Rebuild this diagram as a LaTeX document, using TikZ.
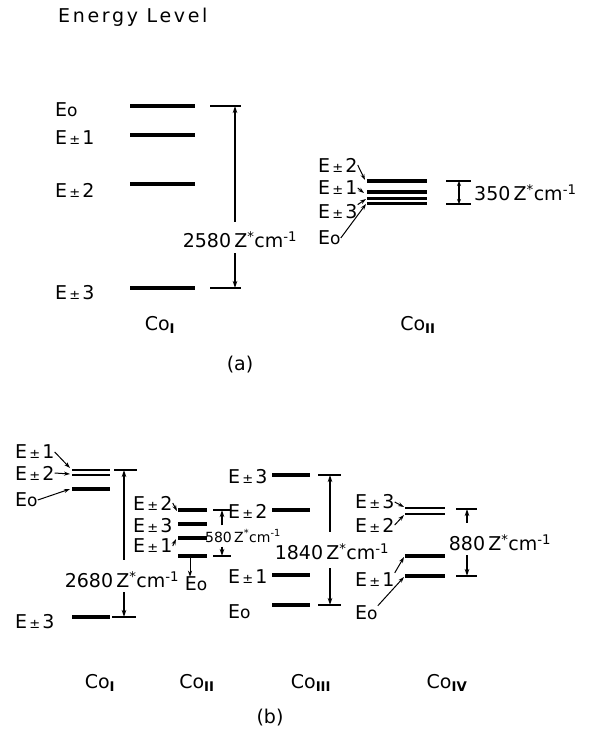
\documentclass[tikz,border=0pt]{standalone}
\usepackage{fontspec}
\setmainfont{DejaVu Sans}
\usetikzlibrary{arrows.meta}

\newcommand{\Epm}[1]{E{\fontsize{13}{13}\selectfont\,±\,}#1}
\newcommand{\Eo}{E{\fontsize{17}{17}\selectfont o}}
\newcommand{\wavenum}[1]{#1\,Z\textsuperscript{*}cm\textsuperscript{-1}}
\newcommand{\Co}[1]{Co\textsubscript{\textbf{#1}}}

\begin{document}
\begin{tikzpicture}[x=1pt, y=-1pt,
  lvl/.style={line width=3.5pt},
  lvlpair/.style={line width=2.5pt},
  lab/.style={font=\fontsize{19}{19}\selectfont, inner sep=0pt, anchor=west},
  gap/.style={font=\fontsize{19}{19}\selectfont, inner sep=2pt},
  gapsmall/.style={font=\fontsize{14}{14}\selectfont, inner sep=1pt},
  ptr/.style={-{Stealth[length=6pt,width=4pt]}, line width=1pt},
  dim/.style={-{Stealth[length=7pt,width=4.5pt]}, line width=1.3pt},
  tick/.style={line width=1.4pt}
]
  \useasboundingbox (0,0) rectangle (594,732);

  \node[lab, font=\fontsize{19}{19}\selectfont\addfontfeature{LetterSpace=14}] (title) at (58,17) {Energy Level};

  % (a) Co_I
  \foreach \y in {106,135,184,288} \draw[lvl] (130,\y) -- (195,\y);
  \node[lab] (aIE0) at (55,110) {\Eo};
  \node[lab] (aIE1) at (55,138) {\Epm{1}};
  \node[lab] (aIE2) at (55,190) {\Epm{2}};
  \node[lab] (aIE3) at (55,293) {\Epm{3}};
  \coordinate (aItop) at (235,106);
  \coordinate (aIbot) at (235,288);
  \draw[tick] (210,106) -- (241,106);
  \draw[tick] (210,288) -- (241,288);
  \node[gap] (aIgap) at (240,240) {\wavenum{2580}};
  \draw[dim] ([yshift=8pt]aIgap.north -| aItop) -- (aItop);
  \draw[dim] ([yshift=-3pt]aIgap.south -| aIbot) -- (aIbot);

  % (a) Co_II
  \draw[lvl] (367,181) -- (427,181);
  \draw[lvl] (367,192) -- (427,192);
  \draw[lvlpair] (367,198.5) -- (427,198.5);
  \draw[lvlpair] (367,203.5) -- (427,203.5);
  \coordinate (aII2) at (365,180);
  \coordinate (aII1) at (364,193);
  \coordinate (aII3) at (366,199);
  \coordinate (aII0) at (366,204);
  \node[lab] (aIIE2) at (318,165) {\Epm{2}};
  \node[lab] (aIIE1) at (318,188) {\Epm{1}};
  \node[lab] (aIIE3) at (318,212) {\Epm{3}};
  \node[lab] (aIIE0) at (318,238) {\Eo};
  \draw[ptr] (aIIE2.east) -- (aII2);
  \draw[ptr] (aIIE1.east) -- (aII1);
  \draw[ptr] (aIIE3.north east) -- (aII3);
  \draw[ptr] (aIIE0.east) -- (aII0);
  \coordinate (aIItop) at (459,181);
  \coordinate (aIIbot) at (459,204);
  \draw[tick] (446,181) -- (471,181);
  \draw[tick] (446,204) -- (471,204);
  \draw[{Stealth[length=5pt,width=4pt]}-{Stealth[length=5pt,width=4pt]}, line width=1.3pt] (aIItop) -- (aIIbot);
  \node[lab] (aIIgap) at (474,193) {\wavenum{350}};

  \node[lab, anchor=center] (aCoI) at (160,325) {\Co{I}};
  \node[lab, anchor=center] (aCoII) at (418,325) {\Co{II}};
  \node[lab, anchor=center] (alabel) at (240,365) {(a)};

  % (b) Co_I
  \draw[lvlpair] (72,470) -- (110,470);
  \draw[lvlpair] (72,475) -- (110,475);
  \draw[lvl] (72,489) -- (110,489);
  \draw[lvl] (72,617) -- (110,617);
  \coordinate (bI1) at (70,468);
  \coordinate (bI2) at (70,474);
  \coordinate (bI0) at (70,489);
  \node[lab] (bIE1) at (15,452) {\Epm{1}};
  \node[lab] (bIE2) at (15,473) {\Epm{2}};
  \node[lab] (bIE0) at (15,500) {\Eo};
  \node[lab] (bIE3) at (15,622) {\Epm{3}};
  \draw[ptr] (bIE1.east) -- (bI1);
  \draw[ptr] (bIE2.east) -- (bI2);
  \draw[ptr] (bIE0.east) -- (bI0);
  \coordinate (bItop) at (124,470);
  \coordinate (bIbot) at (124,617);
  \draw[tick] (114,470) -- (137,470);
  \draw[tick] (112,617) -- (136,617);
  \node[gap] (bIgap) at (122,580) {\wavenum{2680}};
  \draw[dim] ([yshift=10pt]bIgap.north -| bItop) -- (bItop);
  \draw[dim] ([yshift=-2pt]bIgap.south -| bIbot) -- (bIbot);

  % (b) Co_II
  \foreach \y in {510,524,538,556} \draw[lvl] (178,\y) -- (207,\y);
  \coordinate (bII2) at (177,511);
  \coordinate (bII1) at (176,539);
  \coordinate (bII0) at (190,558);
  \node[lab] (bIIE2) at (133,503) {\Epm{2}};
  \node[lab] (bIIE3) at (133,526) {\Epm{3}};
  \node[lab] (bIIE1) at (133,546) {\Epm{1}};
  \node[lab, anchor=center] (bIIE0) at (196,584) {\Eo};
  \draw[ptr] (bIIE2.east) -- (bII2);
  \draw[ptr] (bIIE1.east) -- (bII1);
  \draw[ptr] (bII0) -- (bIIE0.north -| bII0);
  \coordinate (bIItop) at (222,510);
  \coordinate (bIIbot) at (222,556);
  \draw[tick] (213,510) -- (231,510);
  \draw[tick] (213,556) -- (231,556);
  \node[gapsmall] (bIIgap) at (243,536) {\wavenum{580}};
  \draw[dim] ([yshift=3pt]bIIgap.north -| bIItop) -- (bIItop);
  \draw[dim] ([yshift=-3pt]bIIgap.south -| bIIbot) -- (bIIbot);

  % (b) Co_III
  \foreach \y in {475,510,575,605} \draw[lvl] (272,\y) -- (310,\y);
  \node[lab] (bIIIE3) at (228,477) {\Epm{3}};
  \node[lab] (bIIIE2) at (228,511) {\Epm{2}};
  \node[lab] (bIIIE1) at (228,577) {\Epm{1}};
  \node[lab] (bIIIE0) at (228,612) {\Eo};
  \coordinate (bIIItop) at (330,475);
  \coordinate (bIIIbot) at (330,605);
  \draw[tick] (318,475) -- (341,475);
  \draw[tick] (318,605) -- (341,605);
  \node[gap] (bIIIgap) at (332,552) {\wavenum{1840}};
  \draw[dim] ([yshift=10pt]bIIIgap.north -| bIIItop) -- (bIIItop);
  \draw[dim] ([yshift=-6pt]bIIIgap.south -| bIIIbot) -- (bIIIbot);

  % (b) Co_IV
  \draw[lvlpair] (405,508) -- (445,508);
  \draw[lvlpair] (405,514) -- (445,514);
  \draw[lvl] (405,556) -- (445,556);
  \draw[lvl] (405,576) -- (445,576);
  \coordinate (bIV3) at (404,507);
  \coordinate (bIV2) at (404,515);
  \coordinate (bIV1) at (404,557);
  \coordinate (bIV0) at (404,577);
  \node[lab] (bIVE3) at (355,502) {\Epm{3}};
  \node[lab] (bIVE2) at (355,525) {\Epm{2}};
  \node[lab] (bIVE1) at (355,580) {\Epm{1}};
  \node[lab] (bIVE0) at (355,613) {\Eo};
  \draw[ptr] (bIVE3.east) -- (bIV3);
  \draw[ptr] (bIVE2.east) -- (bIV2);
  \draw[ptr] (bIVE1.north east) -- (bIV1);
  \draw[ptr] (bIVE0.north east) -- (bIV0);
  \coordinate (bIVtop) at (467,509);
  \coordinate (bIVbot) at (467,576);
  \draw[tick] (456,509) -- (477,509);
  \draw[tick] (456,576) -- (477,576);
  \node[gap] (bIVgap) at (500,543) {\wavenum{880}};
  \draw[dim] ([yshift=10pt]bIVgap.north -| bIVtop) -- (bIVtop);
  \draw[dim] ([yshift=-2pt]bIVgap.south -| bIVbot) -- (bIVbot);

  \node[lab, anchor=center] (bCoI) at (100,683) {\Co{I}};
  \node[lab, anchor=center] (bCoII) at (197,683) {\Co{II}};
  \node[lab, anchor=center] (bCoIII) at (311,683) {\Co{III}};
  \node[lab, anchor=center] (bCoIV) at (447,683) {\Co{IV}};
  \node[lab, anchor=center] (blabel) at (270,718) {(b)};
\end{tikzpicture}
\end{document}
